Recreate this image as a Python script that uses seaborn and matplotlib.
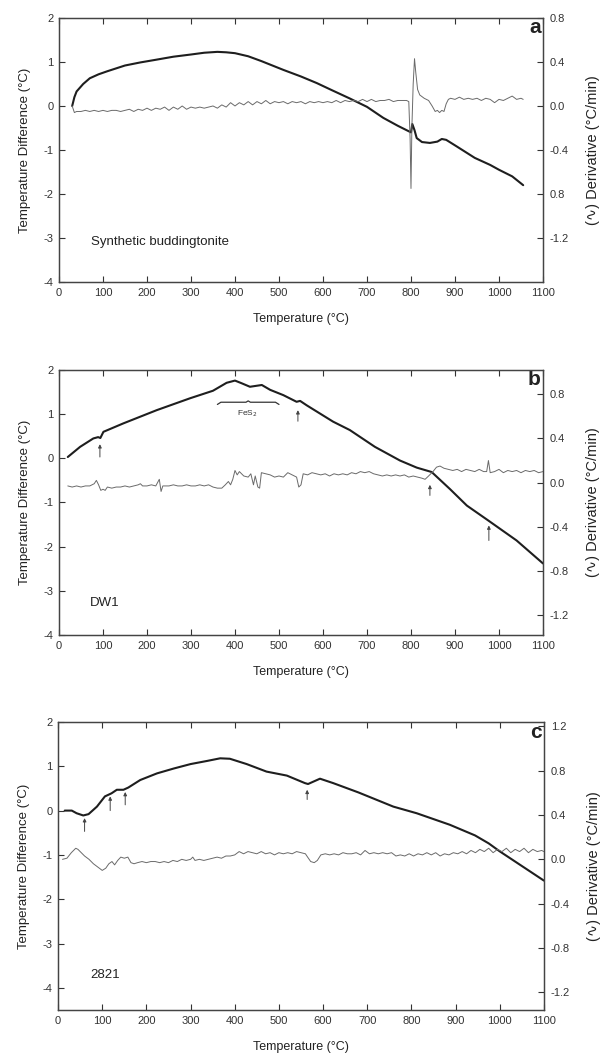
import seaborn as sns
import pandas as pd
import matplotlib.pyplot as plt
import numpy as np

# ---- panel a : synthetic buddingtonite ----
dta_a_t = [30, 35, 40, 55, 70, 90, 110, 150, 185, 220, 260, 300, 330, 360, 380, 400, 430, 460, 510,
           550, 586, 620, 661, 700, 737, 770, 794, 800, 803, 808, 813, 825, 843, 860, 870, 880,
           904, 945, 980, 1000, 1030, 1055]
dta_a_v = [0.0, 0.2, 0.33, 0.5, 0.63, 0.72, 0.79, 0.92, 0.99, 1.05, 1.12, 1.17, 1.21, 1.23, 1.22,
           1.2, 1.13, 1.02, 0.82, 0.67, 0.52, 0.36, 0.17, -0.02, -0.27, -0.45, -0.57, -0.6, -0.41,
           -0.55, -0.73, -0.82, -0.84, -0.81, -0.75, -0.77, -0.92, -1.18, -1.34, -1.45, -1.6, -1.8]
der_a_t = [30, 35, 40, 50, 60, 70, 80, 90, 100, 110, 120, 130, 140, 150, 160, 170, 180, 190, 200,
           210, 220, 230, 240, 250, 260, 270, 280, 290, 300, 310, 320, 330, 340, 350, 360, 370,
           380, 390, 400, 410, 420, 430, 440, 450, 460, 470, 480, 490, 500, 510, 520, 530, 540,
           550, 560, 570, 580, 590, 600, 610, 620, 630, 640, 650, 660, 670, 680, 690, 700, 710,
           720, 730, 740, 750, 760, 770, 780, 790, 795, 798, 800, 802, 805, 808, 811, 815, 820,
           830, 840, 848, 855, 860, 865, 870, 875, 880, 885, 890, 900, 910, 920, 930, 940, 950,
           960, 970, 980, 990, 1000, 1010, 1020, 1030, 1040, 1050, 1055]
der_a_v = [0.0, -0.06, -0.05, -0.05, -0.04, -0.05, -0.04, -0.05, -0.04, -0.05, -0.04, -0.04,
           -0.05, -0.04, -0.03, -0.05, -0.03, -0.04, -0.02, -0.04, -0.02, -0.03, -0.01, -0.04,
           -0.01, -0.03, 0.0, -0.03, -0.01, -0.02, -0.01, -0.02, -0.01, 0.0, -0.02, 0.01, -0.01,
           0.03, 0.0, 0.03, 0.01, 0.04, 0.01, 0.04, 0.02, 0.05, 0.02, 0.04, 0.03, 0.04, 0.02,
           0.04, 0.03, 0.04, 0.02, 0.04, 0.03, 0.04, 0.03, 0.04, 0.03, 0.05, 0.03, 0.05, 0.04,
           0.05, 0.04, 0.06, 0.04, 0.06, 0.04, 0.05, 0.05, 0.06, 0.04, 0.05, 0.05, 0.05, 0.04,
           -0.3, -0.75, -0.2, 0.2, 0.43, 0.3, 0.15, 0.1, 0.07, 0.05, 0.0, -0.05, -0.04, -0.06,
           -0.04, -0.05, 0.02, 0.06, 0.07, 0.06, 0.08, 0.06, 0.07, 0.06, 0.07, 0.05, 0.07, 0.06,
           0.03, 0.06, 0.05, 0.07, 0.09, 0.06, 0.07, 0.06]

# ---- panel b : DW1 ----
dta_b_t = [20, 48, 78, 89, 94, 101, 146, 222, 298, 350, 381, 400, 415, 434, 461, 480, 510, 540,
           548, 563, 623, 661, 718, 775, 813, 847, 889, 927, 976, 1040, 1100]
dta_b_v = [0.03, 0.26, 0.45, 0.48, 0.46, 0.6, 0.79, 1.09, 1.36, 1.53, 1.71, 1.76, 1.7, 1.62,
           1.66, 1.55, 1.43, 1.28, 1.3, 1.2, 0.83, 0.64, 0.26, -0.05, -0.21, -0.31, -0.7, -1.07,
           -1.41, -1.86, -2.38]
der_b_t = [20, 30, 40, 50, 60, 70, 80, 85, 90, 95, 100, 105, 110, 120, 130, 140, 150, 160, 170,
           180, 185, 190, 200, 210, 220, 228, 232, 236, 250, 260, 270, 280, 290, 300, 310, 320,
           330, 340, 350, 360, 370, 378, 385, 390, 395, 400, 405, 410, 420, 430, 436, 442, 446,
           452, 456, 460, 470, 480, 490, 500, 510, 520, 530, 540, 545, 550, 555, 565, 575, 585,
           595, 605, 615, 625, 635, 645, 655, 665, 675, 685, 695, 705, 715, 725, 735, 745, 755,
           765, 775, 785, 795, 805, 815, 825, 832, 840, 850, 858, 866, 875, 885, 895, 905, 915,
           925, 935, 945, 955, 965, 972, 976, 980, 990, 1000, 1010, 1020, 1030, 1040, 1050,
           1060, 1070, 1080, 1090, 1100]
der_b_v = [-0.03, -0.04, -0.03, -0.04, -0.03, -0.03, -0.01, 0.02, -0.02, -0.07, -0.06, -0.07,
           -0.04, -0.05, -0.04, -0.04, -0.03, -0.04, -0.03, -0.02, -0.01, -0.03, -0.03, -0.02,
           -0.03, 0.03, -0.08, -0.03, -0.03, -0.02, -0.03, -0.03, -0.02, -0.03, -0.03, -0.02,
           -0.03, -0.02, -0.04, -0.05, -0.05, -0.02, 0.01, -0.02, 0.03, 0.11, 0.07, 0.1, 0.06,
           0.05, 0.08, -0.02, 0.06, -0.04, -0.05, 0.09, 0.08, 0.07, 0.05, 0.06, 0.05, 0.09, 0.07,
           0.05, -0.04, -0.02, 0.08, 0.07, 0.09, 0.08, 0.07, 0.08, 0.06, 0.08, 0.07, 0.08, 0.07,
           0.09, 0.08, 0.1, 0.09, 0.1, 0.08, 0.07, 0.06, 0.07, 0.06, 0.07, 0.06, 0.07, 0.05,
           0.06, 0.05, 0.04, 0.03, 0.06, 0.1, 0.14, 0.15, 0.13, 0.12, 0.11, 0.12, 0.1, 0.12,
           0.11, 0.1, 0.12, 0.1, 0.1, 0.2, 0.09, 0.1, 0.12, 0.09, 0.11, 0.1, 0.11, 0.09, 0.11,
           0.1, 0.11, 0.09, 0.1]

# ---- panel c : 2821 ----
dta_c_t = [15, 31, 42, 57, 69, 88, 106, 121, 133, 148, 159, 186, 224, 262, 300, 337, 367, 389,
           427, 472, 518, 559, 566, 593, 623, 680, 759, 812, 887, 944, 975, 1000, 1050, 1100]
dta_c_v = [0.0, 0.0, -0.06, -0.11, -0.08, 0.09, 0.32, 0.39, 0.47, 0.47, 0.52, 0.69, 0.84, 0.95,
           1.05, 1.12, 1.18, 1.17, 1.05, 0.88, 0.79, 0.62, 0.6, 0.72, 0.62, 0.41, 0.09, -0.06,
           -0.32, -0.56, -0.74, -0.92, -1.25, -1.58]
der_c_t = [10, 20, 30, 40, 45, 50, 60, 70, 80, 90, 100, 108, 115, 122, 128, 135, 142, 150, 158,
           165, 172, 180, 190, 200, 210, 220, 230, 240, 250, 260, 270, 280, 290, 300, 305, 310,
           320, 330, 340, 350, 360, 370, 380, 390, 400, 410, 420, 430, 440, 450, 460, 470, 480,
           490, 500, 510, 520, 530, 540, 550, 560, 565, 572, 580, 587, 595, 605, 615, 625, 635,
           645, 655, 665, 675, 685, 695, 705, 715, 725, 735, 745, 755, 765, 775, 785, 795, 805,
           815, 825, 835, 845, 855, 865, 875, 885, 895, 905, 915, 925, 935, 945, 955, 965, 975,
           985, 995, 1005, 1015, 1025, 1035, 1045, 1055, 1065, 1075, 1085, 1095, 1100]
der_c_v = [0.0, 0.01, 0.06, 0.1, 0.09, 0.07, 0.03, 0.0, -0.04, -0.07, -0.1, -0.08, -0.04,
           -0.02, -0.05, -0.01, 0.02, 0.01, 0.02, -0.03, -0.04, -0.03, -0.02, -0.03, -0.02,
           -0.02, -0.03, -0.02, -0.03, -0.01, -0.02, 0.0, -0.01, 0.0, 0.02, -0.01, 0.0, -0.01,
           0.0, 0.01, 0.02, 0.01, 0.03, 0.03, 0.04, 0.07, 0.05, 0.07, 0.06, 0.05, 0.07, 0.05,
           0.06, 0.04, 0.06, 0.05, 0.06, 0.05, 0.07, 0.06, 0.05, 0.02, -0.02, -0.03, -0.01,
           0.04, 0.05, 0.04, 0.05, 0.04, 0.06, 0.05, 0.05, 0.06, 0.04, 0.08, 0.05, 0.06, 0.05,
           0.06, 0.05, 0.06, 0.03, 0.04, 0.03, 0.05, 0.03, 0.05, 0.04, 0.06, 0.04, 0.06, 0.03,
           0.05, 0.04, 0.06, 0.05, 0.07, 0.05, 0.08, 0.06, 0.09, 0.07, 0.1, 0.06, 0.09, 0.07,
           0.1, 0.06, 0.09, 0.07, 0.1, 0.06, 0.09, 0.07, 0.08, 0.07]

# arrows (temperature, bottom, top) in left-axis units
arrows_b = [(93, 0.03, 0.32), (543, 0.84, 1.09), (843, -0.84, -0.6), (977, -1.86, -1.52)]
arrows_c = [(60, -0.47, -0.17), (118, 0.0, 0.32), (152, 0.13, 0.42), (564, 0.25, 0.47)]

x_ticks = list(range(0, 1200, 100))
left_ticks = [-4, -3, -2, -1, 0, 1, 2]
right_ticks_a = [0.8, 0.4, 0.0, -0.4, -0.8, -1.2]
right_labels_a = ["0.8", "0.4", "0.0", "-0.4", "0.8", "-1.2"]
right_ticks_b = [0.8, 0.4, 0.0, -0.4, -0.8, -1.2]
right_ticks_c = [1.2, 0.8, 0.4, 0.0, -0.4, -0.8, -1.2]

sns.set_theme(style="ticks")
plt.rcParams['font.family'] = ['Liberation Sans', 'DejaVu Sans']
plt.rcParams['axes.edgecolor'] = '#444444'
plt.rcParams['axes.linewidth'] = 0.9
plt.rcParams['axes.unicode_minus'] = False

fig = plt.figure(figsize=(6.05, 10.58), dpi=100)

panels = [
    dict(rect=[0.0975, 0.7335, 0.80, 0.2495], t=dta_a_t, v=dta_a_v, dt=der_a_t, dv=der_a_v,
         ylim=(-4, 2), rlim=(-1.6, 0.8), rt=right_ticks_a, rl=right_labels_a,
         letter="a", name="Synthetic buddingtonite", name_xy=(72, -3.1), arrows=[]),
    dict(rect=[0.0975, 0.3998, 0.80, 0.2505], t=dta_b_t, v=dta_b_v, dt=der_b_t, dv=der_b_v,
         ylim=(-4, 2), rlim=(-1.38, 1.02), rt=right_ticks_b, rl=None,
         letter="b", name="DW1", name_xy=(70, -3.27), arrows=arrows_b),
    dict(rect=[0.0960, 0.0454, 0.803, 0.2722], t=dta_c_t, v=dta_c_v, dt=der_c_t, dv=der_c_v,
         ylim=(-4.5, 2), rlim=(-1.36, 1.24), rt=right_ticks_c, rl=None,
         letter="c", name="2821", name_xy=(72, -3.7), arrows=arrows_c),
]

for p in panels:
    ax = fig.add_axes(p["rect"])
    ax2 = ax.twinx()
    sns.lineplot(x=p["t"], y=p["v"], ax=ax, color="#1e1e1e", linewidth=1.5,
                 sort=False, estimator=None)
    sns.lineplot(x=p["dt"], y=p["dv"], ax=ax2, color="#6a6a6a", linewidth=0.7,
                 sort=False, estimator=None)
    ax.set_xlim(0, 1100)
    ax.set_ylim(*p["ylim"])
    ax2.set_ylim(*p["rlim"])
    ax.set_xticks(x_ticks)
    ax.set_yticks(left_ticks)
    ax2.set_yticks(p["rt"])
    if p["rl"] is not None:
        ax2.set_yticklabels(p["rl"])
    else:
        ax2.set_yticklabels([f"{t:.1f}" for t in p["rt"]])
    ax.tick_params(direction="in", length=4, width=0.8, top=True, labelsize=8,
                   colors="#333333", pad=4)
    ax2.tick_params(direction="in", length=4, width=0.8, labelsize=8, colors="#333333", pad=5)
    ax.set_xlabel("Temperature (°C)", fontsize=9, labelpad=11, color="#222222")
    ax.set_ylabel("Temperature Difference (°C)", fontsize=9.5, labelpad=9, color="#222222")
    ax2.set_ylabel("(\u223f) Derivative (°C/min)", fontsize=10.5, labelpad=12,
                   color="#222222")
    ax.text(0.995, 0.965, p["letter"], transform=ax.transAxes, ha="right", va="center",
            fontsize=15, fontweight="bold", color="#222222")
    ax.text(p["name_xy"][0], p["name_xy"][1], p["name"], fontsize=9.5, va="center",
            ha="left", color="#222222")
    for (tx, y0, y1) in p["arrows"]:
        ax.annotate("", xy=(tx, y1), xytext=(tx, y0),
                    arrowprops=dict(arrowstyle="-|>", lw=0.7, color="#444444",
                                    mutation_scale=5, shrinkA=0, shrinkB=0))
    if p["letter"] == "b":
        ax.plot([360, 368, 425, 430, 435, 492, 500], [1.22, 1.27, 1.27, 1.3, 1.27, 1.27, 1.22],
                color="#333333", lw=0.9)
        ax.text(428, 1.02, "FeS$_2$", fontsize=6, ha="center", va="center", color="#333333")

plt.savefig("out.png", dpi=100)
